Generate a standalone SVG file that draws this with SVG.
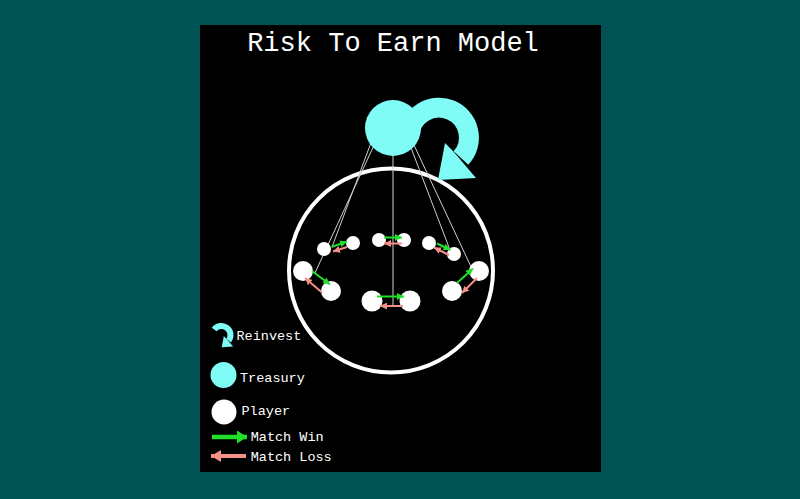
<svg xmlns="http://www.w3.org/2000/svg" width="800" height="499" viewBox="0 0 800 499">
  <style>
    .txt { font-family: "Liberation Mono", "Courier New", monospace; fill: #ffffff; }
    .title { font-size: 27px; }
    .leg { font-size: 13.5px; }
    .link { stroke: #cfcfcf; stroke-width: 1; fill: none; }
    .win { stroke: #22e02a; stroke-width: 2; fill: none; marker-end: url(#hw); }
    .loss { stroke: #f49088; stroke-width: 2; fill: none; marker-end: url(#hl); }
    .player { fill: #ffffff; }
    .cyan { fill: #7ffcf6; }
  </style>
  <defs>
    <marker id="hw" markerUnits="userSpaceOnUse" markerWidth="7" markerHeight="7" refX="7" refY="3.5" orient="auto">
      <path d="M0,0 L7,3.5 L0,7 z" fill="#22e02a"/>
    </marker>
    <marker id="hl" markerUnits="userSpaceOnUse" markerWidth="7" markerHeight="7" refX="7" refY="3.5" orient="auto">
      <path d="M0,0 L7,3.5 L0,7 z" fill="#f49088"/>
    </marker>
    <marker id="hwL" markerUnits="userSpaceOnUse" markerWidth="10" markerHeight="13" refX="10" refY="6.5" orient="auto">
      <path d="M0,0 L10,6.5 L0,13 z" fill="#22e02a"/>
    </marker>
    <marker id="hlL" markerUnits="userSpaceOnUse" markerWidth="10" markerHeight="12" refX="10" refY="6" orient="auto">
      <path d="M0,0 L10,6 L0,12 z" fill="#f49088"/>
    </marker>
    <g id="reinvestShape">
      <path d="M -30 0 A 30 30 0 1 1 22 22" stroke="#7ffcf6" stroke-width="20" fill="none"/>
      <polygon points="6,7 14,15 37,42 -1,44" fill="#7ffcf6"/>
    </g>
  </defs>

  <rect x="0" y="0" width="800" height="499" fill="#015353"/>
  <rect x="200" y="25" width="401" height="447" fill="#000000"/>

  <text class="txt title" x="393" y="51" text-anchor="middle">Risk To Earn Model</text>

  <g id="arena">
    <circle cx="391" cy="270.5" r="102" fill="none" stroke="#ffffff" stroke-width="4"/>
  </g>

  <g id="connectors">
    <line class="link" x1="376.5" y1="128" x2="332" y2="247"/>
    <line class="link" x1="382" y1="128" x2="314.5" y2="274"/>
    <line class="link" x1="393" y1="128" x2="393" y2="305"/>
    <line class="link" x1="403.5" y1="128" x2="450" y2="250"/>
    <line class="link" x1="406" y1="128" x2="473" y2="271"/>
  </g>

  <g id="players">
    <circle id="p1" class="player" cx="324" cy="249" r="7"/>
    <circle id="p2" class="player" cx="353" cy="243" r="7"/>
    <circle id="p3" class="player" cx="379" cy="240" r="7"/>
    <circle id="p4" class="player" cx="404" cy="240" r="7"/>
    <circle id="p5" class="player" cx="429" cy="243" r="7"/>
    <circle id="p6" class="player" cx="454" cy="254" r="7"/>
    <circle id="p7" class="player" cx="303" cy="271" r="10"/>
    <circle id="p8" class="player" cx="331" cy="291" r="10"/>
    <circle id="p9" class="player" cx="372" cy="301" r="10.5"/>
    <circle id="p10" class="player" cx="410" cy="301" r="10.5"/>
    <circle id="p11" class="player" cx="479" cy="271" r="10"/>
    <circle id="p12" class="player" cx="452" cy="291" r="10"/>
  </g>

  <g id="matches">
    <line class="win" x1="331.5" y1="247" x2="347" y2="241.5"/>
    <line class="loss" x1="347" y1="247" x2="333" y2="251.5"/>
    <line class="win" x1="384" y1="237.5" x2="402" y2="237.5"/>
    <line class="loss" x1="402" y1="243.5" x2="384" y2="243.5"/>
    <line class="win" x1="437" y1="243.5" x2="450.5" y2="250"/>
    <line class="loss" x1="449" y1="255" x2="434" y2="247.5"/>
    <line class="win" x1="312" y1="271" x2="330" y2="284.5"/>
    <line class="loss" x1="322" y1="292.5" x2="305" y2="278"/>
    <line class="win" x1="377" y1="296.5" x2="404" y2="296.5"/>
    <line class="loss" x1="403" y1="306" x2="380" y2="306"/>
    <line class="win" x1="457" y1="283" x2="473" y2="268.5"/>
    <line class="loss" x1="477" y1="278" x2="462" y2="293"/>
  </g>

  <g id="treasury">
    <use href="#reinvestShape" transform="translate(439,136)"/>
    <circle class="cyan" cx="393" cy="128" r="28"/>
  </g>

  <g id="legend">
    <g id="legend-reinvest">
      <path d="M -26 -15 A 30 30 0 1 1 22 22" stroke="#7ffcf6" stroke-width="20" fill="none" transform="translate(222,334) scale(0.3)"/>
      <polygon points="6,7 14,15 37,42 -1,44" fill="#7ffcf6" transform="translate(222,334) scale(0.3)"/>
      <text class="txt leg" x="236.5" y="340">Reinvest</text>
    </g>
    <g id="legend-treasury">
      <circle class="cyan" cx="223.5" cy="375" r="13"/>
      <text class="txt leg" x="240" y="381.7">Treasury</text>
    </g>
    <g id="legend-player">
      <circle class="player" cx="224" cy="412" r="12.5"/>
      <text class="txt leg" x="241.5" y="415">Player</text>
    </g>
    <g id="legend-win">
      <line x1="212" y1="437" x2="247" y2="437" stroke="#22e02a" stroke-width="4.5" marker-end="url(#hwL)"/>
      <text class="txt leg" x="250.7" y="441">Match Win</text>
    </g>
    <g id="legend-loss">
      <line x1="246" y1="456" x2="211" y2="456" stroke="#f49088" stroke-width="4" marker-end="url(#hlL)"/>
      <text class="txt leg" x="250.7" y="460.7">Match Loss</text>
    </g>
  </g>
</svg>
